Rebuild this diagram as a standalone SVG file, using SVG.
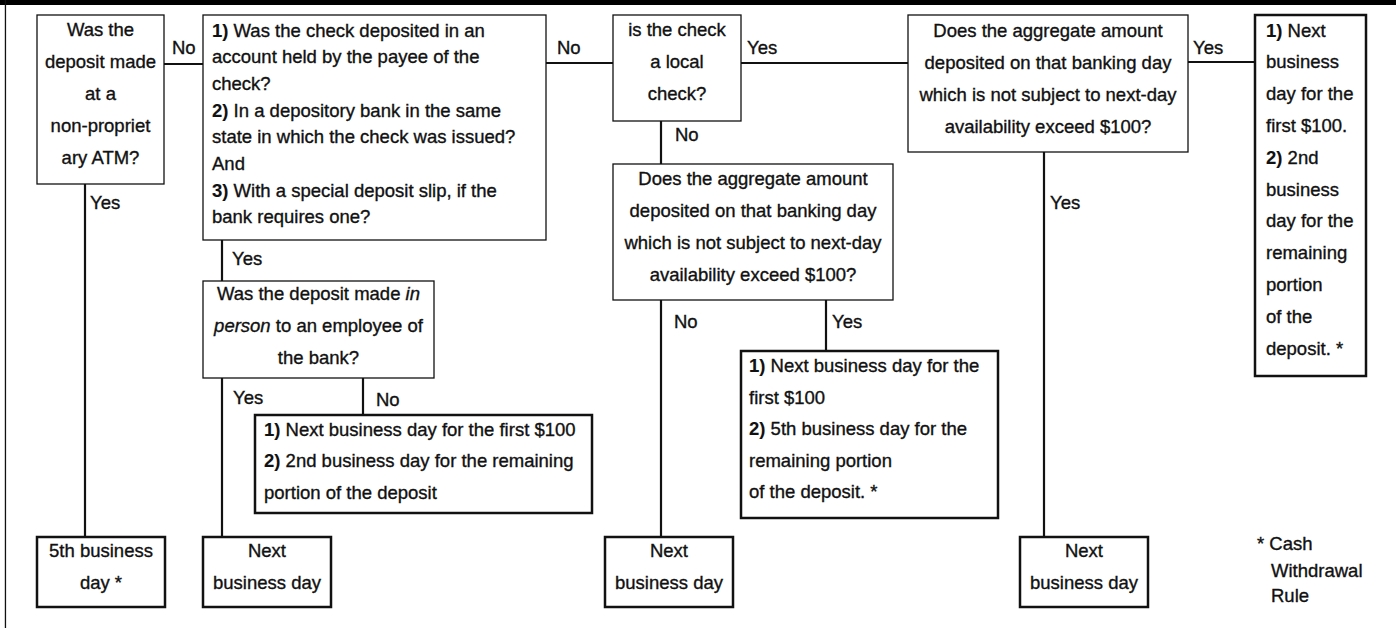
<svg xmlns="http://www.w3.org/2000/svg" width="1396" height="628" viewBox="0 0 1396 628">
  <style>
    text { font-family: "Liberation Sans", Arial, sans-serif; font-size: 18.5px; fill: #111; stroke: #111; stroke-width: 0.35; }
    .c { text-anchor: middle; }
    .b { font-weight: bold; stroke-width: 0.1; }
    .i { font-style: italic; }
    .q { fill: #fff; stroke: #111; stroke-width: 1.3; }
    .r { fill: #fff; stroke: #111; stroke-width: 2.5; }
    .wire { fill: none; stroke: #111; stroke-width: 2.2; }
  </style>

  <!-- page frame -->
  <rect x="0" y="0" width="1396" height="5" fill="#000"/>
  <rect x="4.8" y="0" width="1.3" height="628" fill="#111"/>

  <!-- connectors -->
  <g id="connectors">
    <path class="wire" d="M164 64 H203"/>
    <path class="wire" d="M85 184 V537"/>
    <path class="wire" d="M546 63 H613"/>
    <path class="wire" d="M222 240 V281"/>
    <path class="wire" d="M222 378 V537"/>
    <path class="wire" d="M363 378 V415"/>
    <path class="wire" d="M741 63 H908"/>
    <path class="wire" d="M661 121 V164"/>
    <path class="wire" d="M661 300 V537"/>
    <path class="wire" d="M826 300 V351"/>
    <path class="wire" d="M1188 62 H1255"/>
    <path class="wire" d="M1044 152 V537"/>
    <text x="172" y="54">No</text>
    <text x="90" y="209">Yes</text>
    <text x="557" y="54">No</text>
    <text x="232" y="265">Yes</text>
    <text x="233" y="404">Yes</text>
    <text x="376" y="406">No</text>
    <text x="747" y="54">Yes</text>
    <text x="675" y="141">No</text>
    <text x="674" y="328">No</text>
    <text x="832" y="328">Yes</text>
    <text x="1193" y="54">Yes</text>
    <text x="1050" y="209">Yes</text>
  </g>

  <!-- ATM question -->
  <g id="atm">
    <rect class="q" x="37" y="15" width="127" height="169"/>
    <text class="c" x="100.5" y="36">Was the</text>
    <text class="c" x="100.5" y="68">deposit made</text>
    <text class="c" x="100.5" y="100">at a</text>
    <text class="c" x="100.5" y="132">non-propriet</text>
    <text class="c" x="100.5" y="164">ary ATM?</text>
  </g>

  <!-- payee / same state / deposit slip question -->
  <g id="payee">
    <rect class="q" x="203" y="15" width="343" height="225"/>
    <text x="212" y="36.5"><tspan class="b">1)</tspan> Was the check deposited in an</text>
    <text x="212" y="63">account held by the payee of the</text>
    <text x="212" y="90">check?</text>
    <text x="212" y="116.5"><tspan class="b">2)</tspan> In a depository bank in the same</text>
    <text x="212" y="143">state in which the check was issued?</text>
    <text x="212" y="170">And</text>
    <text x="212" y="196.5"><tspan class="b">3)</tspan> With a special deposit slip, if the</text>
    <text x="212" y="223">bank requires one?</text>
  </g>

  <!-- in person question -->
  <g id="in-person">
    <rect class="q" x="203" y="281" width="231" height="97"/>
    <text class="c" x="318.5" y="300">Was the deposit made <tspan class="i">in</tspan></text>
    <text class="c" x="318.5" y="332"><tspan class="i">person</tspan> to an employee of</text>
    <text class="c" x="318.5" y="364">the bank?</text>
  </g>

  <!-- next day first $100, 2nd day rest -->
  <g id="split-2nd">
    <rect class="r" x="255" y="415" width="337" height="98"/>
    <text x="264" y="435.5"><tspan class="b">1)</tspan> Next business day for the first $100</text>
    <text x="264" y="467"><tspan class="b">2)</tspan> 2nd business day for the remaining</text>
    <text x="264" y="498.5">portion of the deposit</text>
  </g>

  <!-- local check question -->
  <g id="local">
    <rect class="q" x="613" y="15" width="128" height="106"/>
    <text class="c" x="677" y="36">is the check</text>
    <text class="c" x="677" y="68">a local</text>
    <text class="c" x="677" y="100">check?</text>
  </g>

  <!-- aggregate question (non-local branch) -->
  <g id="aggregate-nonlocal">
    <rect class="q" x="613" y="164" width="280" height="136"/>
    <text class="c" x="753" y="185">Does the aggregate amount</text>
    <text class="c" x="753" y="217">deposited on that banking day</text>
    <text class="c" x="753" y="249">which is not subject to next-day</text>
    <text class="c" x="753" y="281">availability exceed $100?</text>
  </g>

  <!-- next day first $100, 5th day rest -->
  <g id="split-5th">
    <rect class="r" x="741" y="351" width="257" height="167"/>
    <text x="749" y="372"><tspan class="b">1)</tspan> Next business day for the</text>
    <text x="749" y="403.5">first $100</text>
    <text x="749" y="435"><tspan class="b">2)</tspan> 5th business day for the</text>
    <text x="749" y="466.5">remaining portion</text>
    <text x="749" y="498">of the deposit. *</text>
  </g>

  <!-- aggregate question (local branch) -->
  <g id="aggregate-local">
    <rect class="q" x="908" y="15" width="280" height="137"/>
    <text class="c" x="1048" y="37">Does the aggregate amount</text>
    <text class="c" x="1048" y="69">deposited on that banking day</text>
    <text class="c" x="1048" y="101">which is not subject to next-day</text>
    <text class="c" x="1048" y="133">availability exceed $100?</text>
  </g>

  <!-- next day first $100, 2nd day rest (local) -->
  <g id="split-local">
    <rect class="r" x="1255" y="15" width="111" height="361"/>
    <text x="1266" y="36.5"><tspan class="b">1)</tspan> Next</text>
    <text x="1266" y="68.3">business</text>
    <text x="1266" y="100.1">day for the</text>
    <text x="1266" y="131.9">first $100.</text>
    <text x="1266" y="163.7"><tspan class="b">2)</tspan> 2nd</text>
    <text x="1266" y="195.5">business</text>
    <text x="1266" y="227.3">day for the</text>
    <text x="1266" y="259.1">remaining</text>
    <text x="1266" y="290.9">portion</text>
    <text x="1266" y="322.7">of the</text>
    <text x="1266" y="354.5">deposit. *</text>
  </g>

  <!-- terminal outcomes -->
  <g id="fifth-day">
    <rect class="r" x="37" y="537" width="128" height="70"/>
    <text class="c" x="101" y="557">5th business</text>
    <text class="c" x="101" y="589">day *</text>
  </g>
  <g id="next-day-1">
    <rect class="r" x="203" y="537" width="128" height="70"/>
    <text class="c" x="267" y="557">Next</text>
    <text class="c" x="267" y="589">business day</text>
  </g>
  <g id="next-day-2">
    <rect class="r" x="605" y="537" width="128" height="70"/>
    <text class="c" x="669" y="557">Next</text>
    <text class="c" x="669" y="589">business day</text>
  </g>
  <g id="next-day-3">
    <rect class="r" x="1020" y="537" width="128" height="70"/>
    <text class="c" x="1084" y="557">Next</text>
    <text class="c" x="1084" y="589">business day</text>
  </g>

  <!-- footnote -->
  <g id="footnote">
    <text x="1257" y="550">* Cash</text>
    <text x="1271" y="576.5">Withdrawal</text>
    <text x="1271" y="601.5">Rule</text>
  </g>
</svg>
